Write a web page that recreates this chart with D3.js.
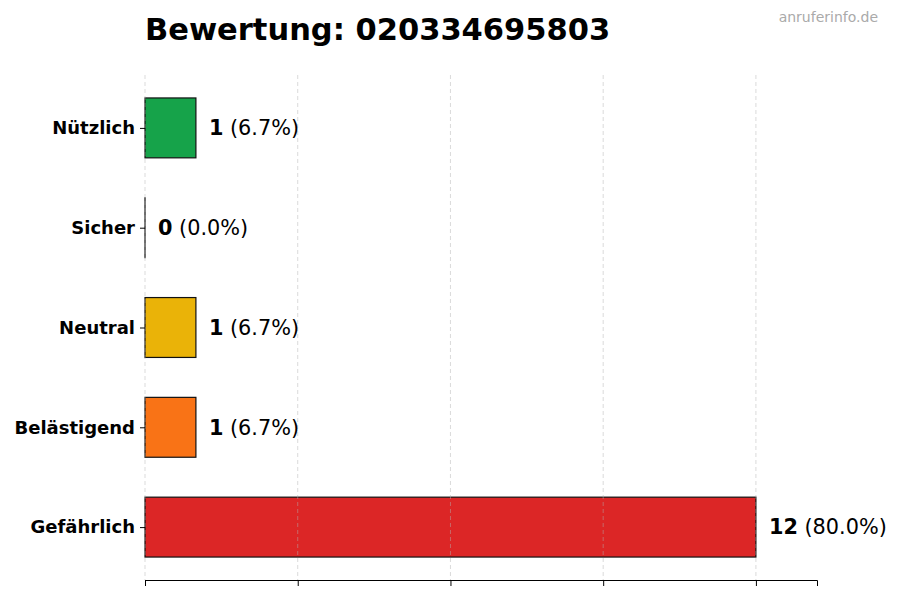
<!DOCTYPE html>
<html>
<head>
<meta charset="utf-8">
<script src="https://cdn.jsdelivr.net/npm/d3@7"></script>
<style>
  body { margin: 0; background: #fff; }
  svg { font-family: "DejaVu Sans", sans-serif; }
</style>
</head>
<body>
<div id="canvas"></div>
<script>
// chart data
var categories = ["Nützlich", "Sicher", "Neutral", "Belästigend", "Gefährlich"];
var counts = [1, 0, 1, 1, 12];
var percents = ["6.7%", "0.0%", "6.7%", "6.7%", "80.0%"];
var colors = ["#16a34a", "#6b7280", "#eab308", "#f97316", "#dc2626"];
var xTicks = [0, 3, 6, 9, 12];

var width = 900, height = 600;
var plotLeft = 145, plotRight = 817, plotTop = 75, plotBottom = 580;

var svg = d3.select("#canvas").append("svg")
	.attr("width", width)
	.attr("height", height);

var x = d3.scaleLinear().domain([0, d3.max(counts) * 1.1]).range([plotLeft, plotRight]);
// index 0 at top
var y = d3.scaleLinear().domain([-0.53, categories.length - 1 + 0.53]).range([plotTop, plotBottom]);
var barH = y(0.6) - y(0);

// bars (tiny min width so the zero bar still shows its edge)
svg.selectAll("rect.bar")
	.data(counts)
	.enter().append("rect")
	.attr("class", "bar")
	.attr("x", x(0))
	.attr("y", function(d, i){ return y(i) - barH / 2; })
	.attr("width", function(d){ return Math.max(0.01, x(d) - x(0)); })
	.attr("height", barH)
	.attr("fill", function(d, i){ return colors[i]; })
	.attr("stroke", "#111")
	.attr("stroke-width", 1.2);

// grid on top, faint
svg.selectAll("line.grid")
	.data(xTicks)
	.enter().append("line")
	.attr("class", "grid")
	.attr("x1", function(d){ return x(d); })
	.attr("x2", function(d){ return x(d); })
	.attr("y1", plotTop)
	.attr("y2", plotBottom)
	.attr("stroke", "#b0b0b0")
	.attr("stroke-opacity", 0.6)
	.attr("stroke-width", 0.8)
	.attr("stroke-dasharray", "4,3");

// bottom axis, no labels
var xAxis = svg.append("g")
	.attr("transform", "translate(0," + plotBottom + ")")
	.call(d3.axisBottom(x).tickValues(xTicks).tickSize(6).tickFormat(""));
xAxis.select(".domain").attr("stroke", "#000").attr("stroke-width", 1);
xAxis.selectAll(".tick line").attr("stroke", "#000");

// left axis ticks + labels, spine hidden
var yAxis = svg.append("g")
	.attr("transform", "translate(" + plotLeft + ",0)")
	.call(d3.axisLeft(y).tickValues(d3.range(categories.length)).tickSize(5).tickPadding(5)
		.tickFormat(function(i){ return categories[i]; }));
yAxis.select(".domain").remove();
yAxis.selectAll(".tick line").attr("stroke", "#000");
yAxis.selectAll(".tick text")
	.attr("font-family", "DejaVu Sans")
	.attr("font-size", 18)
	.attr("font-weight", "bold")
	.attr("fill", "#000");

// value labels
var vl = svg.selectAll("text.val")
	.data(counts)
	.enter().append("text")
	.attr("class", "val")
	.attr("x", function(d){ return x(d) + 13; })
	.attr("y", function(d, i){ return y(i); })
	.attr("dy", "0.35em")
	.attr("font-size", 20.8)
	.attr("fill", "#000");
vl.append("tspan").attr("font-weight", "bold").text(function(d){ return d; });
vl.append("tspan").text(function(d, i){ return " (" + percents[i] + ")"; });

// title
svg.append("text")
	.attr("x", plotLeft)
	.attr("y", 40)
	.attr("font-size", 30.5)
	.attr("font-weight", "bold")
	.attr("fill", "#000")
	.text("Bewertung: 020334695803");

// watermark
svg.append("text")
	.attr("x", 878)
	.attr("y", 22)
	.attr("text-anchor", "end")
	.attr("font-size", 14)
	.attr("fill", "#aaaaaa")
	.text("anruferinfo.de");
</script>
</body>
</html>
